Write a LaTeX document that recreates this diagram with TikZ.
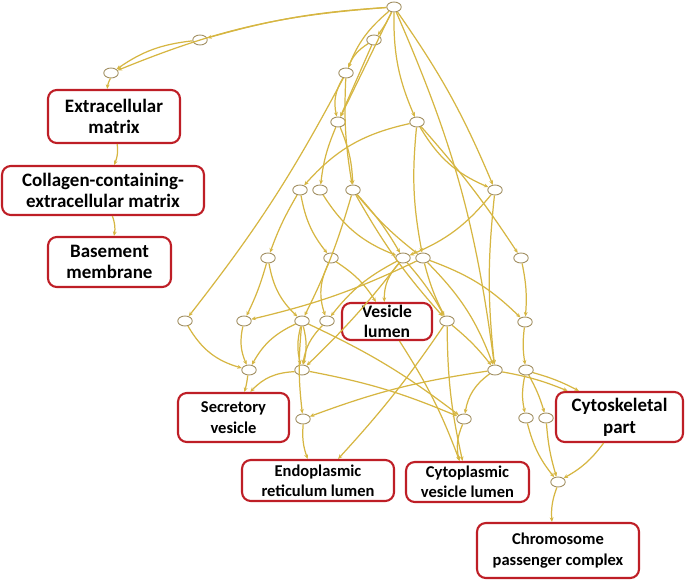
\documentclass[tikz,border=0pt]{standalone}
\usepackage{fontspec}
\setmainfont{Carlito}
\usetikzlibrary{shapes.geometric, arrows.meta}
\definecolor{boxred}{RGB}{190,30,38}
\definecolor{gold}{RGB}{214,182,66}
\definecolor{dotrim}{RGB}{160,142,96}

\begin{document}
\begin{tikzpicture}[x=0.02cm, y=-0.02cm, >={Stealth[length=2.6pt,width=2.2pt]}]
    % Define styles
    \tikzstyle{dot} = [ellipse, draw=dotrim, fill=white, line width=0.5pt, minimum width=0.29cm, minimum height=0.2cm, inner sep=0pt]
    \tikzstyle{term} = [rectangle, draw=boxred, fill=white, line width=1.2pt, rounded corners=5pt, align=center, inner sep=0pt, font=\bfseries\fontsize{9.4}{11.6}\selectfont]
    \tikzstyle{bigterm} = [term, font=\bfseries\fontsize{10.8}{12.4}\selectfont]
    \tikzstyle{link} = [draw=gold, line width=0.7pt, ->]

    \useasboundingbox (0,0) rectangle (685,581);

    % Place nodes - small terms
    \node [dot] (r) at (394,7) {};
    \node [dot] (a1) at (200,40) {};
    \node [dot] (a2) at (111,73) {};
    \node [dot] (b1) at (374,40) {};
    \node [dot] (b2) at (346,73) {};
    \node [dot] (c1) at (338,122) {};
    \node [dot] (c2) at (417,122) {};
    \node [dot] (d1) at (300,190) {};
    \node [dot] (d2) at (320,190) {};
    \node [dot] (d3) at (353,190) {};
    \node [dot] (d4) at (495,190) {};
    \node [dot] (e1) at (268,258) {};
    \node [dot] (e2) at (331,258) {};
    \node [dot] (e3) at (403,258) {};
    \node [dot] (e4) at (423,258) {};
    \node [dot] (e5) at (521,258) {};
    \node [dot] (f1) at (185,321) {};
    \node [dot] (f2) at (244,321) {};
    \node [dot] (f3) at (302,321) {};
    \node [dot] (f4) at (327,321) {};
    \node [dot] (f5) at (447,321) {};
    \node [dot] (f6) at (525,322) {};
    \node [dot] (g1) at (249,370) {};
    \node [dot] (g2) at (302,370) {};
    \node [dot] (g3) at (495,370) {};
    \node [dot] (g4) at (526,370) {};
    \node [dot] (h1) at (303,419) {};
    \node [dot] (h2) at (464,419) {};
    \node [dot] (h3) at (526,418) {};
    \node [dot] (h4) at (546,418) {};
    \node [dot] (k) at (558,482) {};

    % Place nodes - labelled terms
    \node [bigterm, minimum width=2.64cm, minimum height=1.06cm] (ecm) at (114,116.5) {Extracellular\\matrix};
    \node [bigterm, minimum width=4.04cm, minimum height=0.98cm] (coll) at (103,190.5) {Collagen-containing-\\extracellular matrix};
    \node [bigterm, minimum width=2.46cm, minimum height=1.0cm] (base) at (109.5,262) {Basement\\membrane};
    \node [term, minimum width=1.8cm, minimum height=0.74cm, font=\bfseries\fontsize{10}{11.4}\selectfont] (vl) at (387,321.5) {Vesicle\\lumen};
    \node [term, minimum width=2.22cm, minimum height=0.98cm] (sec) at (233.5,417.5) {Secretory\\vesicle};
    \node [term, minimum width=3.04cm, minimum height=0.82cm] (er) at (318,480.5) {Endoplasmic\\reticulum lumen};
    \node [term, minimum width=2.46cm, minimum height=0.8cm] (cvl) at (467.5,482) {Cytoplasmic\\vesicle lumen};
    \node [bigterm, minimum width=2.54cm, minimum height=1.0cm] (cyto) at (619.5,417) {Cytoskeletal\\part};
    \node [term, minimum width=3.24cm, minimum height=1.1cm] (cpc) at (558,550.5) {Chromosome\\passenger complex};

    % Draw edges - top part
    \path [link] (r) to[bend right=6] (a1);
    \path [link] (a1) to[bend right=14] (a2);
    \path [link] (r) to[bend right=9] (a2);
    \path [link] (a2) to[bend right=10] (ecm);
    \path [link] (ecm) to[bend left=15] (coll);
    \path [link] (coll) to[bend left=15] (base);
    \path [link] (r) to[bend left=6] (b1);
    \path [link] (r) to[bend right=14] (b2);
    \path [link] (b1) to[bend right=18] (b2);
    \path [link] (b1) -- (c1);
    \path [link] (r) -- (c1);
    \path [link] (b2) to[bend right=22] (c1);
    \path [link] (b2) to[bend left=5] (f1);
    \path [link] (r) to[bend right=12] (c2);
    \path [link] (r) to[bend left=6] (d4);
    \path [link] (r) to[bend left=8] (g3);

    % Draw edges - second level
    \path [link] (c1) to[bend right=8] (d2);
    \path [link] (c1) to[bend left=10] (d3);
    \path [link] (b2) to[bend right=6] (d3);
    \path [link] (c2) to[bend right=18] (d1);
    \path [link] (c2) to[bend right=18] (d4);
    \path [link] (c2) to[bend right=8] (e4);
    \path [link] (c2) to[bend left=4] (e5);
    \path [link] (d4) to[bend left=14] (e3);
    \path [link] (d4) to[bend right=6] (g3);
    \path [link] (d1) to[bend right=5] (e1);
    \path [link] (d1) to[bend right=14] (e2);
    \path [link] (d2) to[bend right=18] (e3);
    \path [link] (d3) to[bend left=6] (e3);
    \path [link] (d3) to[bend right=6] (e4);
    \path [link] (d3) to[bend left=5] (f3);
    \path [link] (d3) to[bend right=6] (f5);

    % Draw edges - middle part
    \path [link] (e1) to[bend left=5] (f2);
    \path [link] (e1) to[bend right=18] (f3);
    \path [link] (e2) to[bend right=22] (f4);
    \path [link] (e2) to[bend left=12] (vl);
    \path [link] (e3) to[bend right=22] (vl);
    \path [link] (e3) to[bend left=6] (f5);
    \path [link] (e4) to[bend right=6] (f5);
    \path [link] (e3) to[bend right=12] (f4);
    \path [link] (e3) to[bend left=4] (g2);
    \path [link] (e4) to[bend left=6] (f2);
    \path [link] (e4) to[bend left=12] (g3);
    \path [link] (e4) to[bend left=12] (f6);
    \path [link] (e5) to[bend left=8] (f6);
    \path [link] (f6) to[bend right=8] (g4);
    \path [link] (f1) to[bend right=22] (g1);
    \path [link] (f2) to[bend right=18] (g1);
    \path [link] (f3) to[bend right=18] (g1);
    \path [link] (f3) to[bend left=14] (g2);
    \path [link] (f3) to[bend right=14] (g2);
    \path [link] (f4) to[bend right=18] (g2);
    \path [link] (f5) to[bend left=6] (g3);

    % Draw edges - lower part
    \path [link] (f3) to[bend right=6] (h1);
    \path [link] (f3) to[bend left=6] (h2);
    \path [link] (g1) to[bend left=5] (sec);
    \path [link] (g2) to[bend right=22] (sec);
    \path [link] (g2) to[bend left=6] (h2);
    \path [link] (g3) to[bend right=6] (h1);
    \path [link] (g3) to[bend right=22] (h2);
    \path [link] (g3) to[bend left=6] (cyto);
    \path [link] (f5) to[bend left=4] (er);
    \path [link] (f5) to[bend right=6] (cvl);
    \path [link] (vl) to[bend left=6] (cvl);
    \path [link] (h1) to[bend right=12] (er);
    \path [link] (h2) to[bend right=18] (cvl);
    \path [link] (g4) to[bend right=12] (h3);
    \path [link] (g4) to[bend left=6] (h4);
    \path [link] (g4) to[bend left=6] (cyto);
    \path [link] (h3) to[bend right=12] (k);
    \path [link] (h4) to[bend right=6] (k);
    \path [link] (cyto) to[bend left=12] (k);
    \path [link] (k) to[bend right=12] (cpc);

\end{tikzpicture}
\end{document}
